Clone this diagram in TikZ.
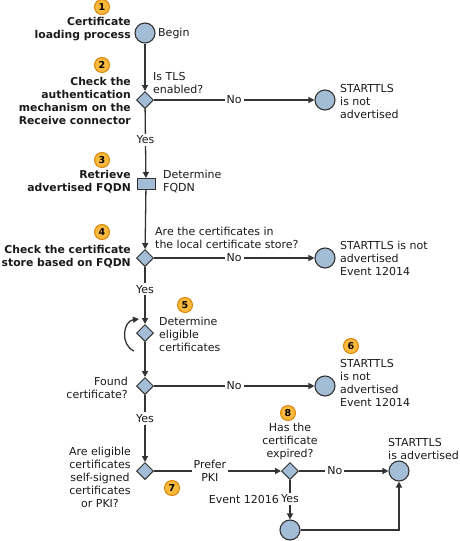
\documentclass[tikz,border=0pt]{standalone}
\usepackage{fontspec}
\setmainfont{DejaVu Sans}
\usetikzlibrary{shapes.geometric,arrows.meta}
\definecolor{nodefill}{HTML}{A3BDD6}
\definecolor{linec}{HTML}{333333}
\definecolor{badgefill}{HTML}{FAB93C}
\definecolor{badgeline}{HTML}{D9870A}
\definecolor{txtc}{HTML}{1A1A1A}
\begin{document}
\begin{tikzpicture}[x=1pt,y=-1pt,
 every node/.style={font=\fontsize{11}{13}\selectfont, text=txtc},
 endc/.style={circle, draw=linec, line width=1.1pt, fill=nodefill, minimum size=20pt, inner sep=0pt},
 dec/.style={diamond, draw=linec, line width=1pt, fill=nodefill, minimum width=17pt, minimum height=17pt, inner sep=0pt},
 procbox/.style={rectangle, draw=linec, line width=1pt, fill=nodefill, minimum width=18pt, minimum height=11pt, inner sep=0pt},
 flow/.style={draw=linec, line width=1.3pt, -{Triangle[length=6pt,width=6pt]}},
 lbl/.style={fill=white, inner sep=2pt, align=center},
 txt/.style={inner sep=0pt, align=left},
 head/.style={inner sep=0pt, align=right, font=\fontsize{10.8}{13}\selectfont\bfseries},
 badge/.style={circle, draw=badgeline, line width=1pt, fill=badgefill, minimum size=15pt, inner sep=0pt, text=black, font=\fontsize{9.5}{10}\selectfont\bfseries},
]
\useasboundingbox (0,0) rectangle (459,541);

% main nodes
\node[endc] (begin) at (145,33) {};
\node[dec] (d1) at (145,100) {};
\node[endc] (end1) at (325,100) {};
\node[procbox] (fqdn) at (146,184) {};
\node[dec] (d2) at (145,258) {};
\node[endc] (end2) at (325,258) {};
\node[dec] (d3) at (145,333) {};
\node[dec] (d4) at (145,386) {};
\node[endc] (end3) at (325,386) {};
\node[dec] (d5) at (145,471) {};
\node[dec] (d6) at (290,471) {};
\node[endc] (end4) at (399,471) {};
\node[endc] (c5) at (290,530) {};

% badges
\node[badge] (b1) at (102,7) {1};
\node[badge] (b2) at (102,65) {2};
\node[badge] (b3) at (102,160) {3};
\node[badge] (b4) at (102,232) {4};
\node[badge] (b5) at (185,305) {5};
\node[badge] (b6) at (351,346) {6};
\node[badge] (b7) at (172,488) {7};
\node[badge] (b8) at (288,413) {8};

% headings
\node[head, anchor=east] (h1) at (131,29.5) {Certificate\\loading process};
\node[head, anchor=east] (h2) at (131,100.5) {Check the\\authentication\\mechanism on the\\Receive connector};
\node[head, anchor=east] (h3) at (131,181.5) {Retrieve\\advertised FQDN};
\node[head, anchor=east] (h4) at (131,256.5) {Check the certificate\\store based on FQDN};

% texts
\node[txt, anchor=west] (t0) at (158,33) {Begin};
\node[txt, anchor=west] (t1) at (153,83) {Is TLS\\enabled?};
\node[txt, anchor=west] (t2) at (340,101) {STARTTLS\\is not\\advertised};
\node[txt, anchor=west] (t3) at (163,181.5) {Determine\\FQDN};
\node[txt, anchor=west] (t4) at (155,238) {Are the certificates in\\the local certificate store?};
\node[txt, anchor=west] (t5) at (340,258) {STARTTLS is not\\advertised\\Event 12014};
\node[txt, anchor=west] (t6) at (159,334.5) {Determine\\eligible\\certificates};
\node[txt, anchor=east, align=right] (t7) at (128,387.5) {Found\\certificate?};
\node[txt, anchor=west] (t8) at (340,382.5) {STARTTLS\\is not\\advertised\\Event 12014};
\node[txt, align=center] (t9) at (100,477) {Are eligible\\certificates\\self-signed\\certificates\\or PKI?};
\node[txt, align=center] (t10) at (290,441) {Has the\\certificate\\expired?};
\node[txt, anchor=west] (t11) at (388,448.5) {STARTTLS\\is advertised};
\node[txt, anchor=east] (t12) at (279,499) {Event 12016};

% connectors
\draw[flow] (begin) -- (d1);
\draw[flow] (d1) -- node[lbl]{No} (end1);
\draw[flow] (d1) -- node[lbl, pos=0.45]{Yes} (fqdn);
\draw[flow] (fqdn) -- (d2);
\draw[flow] (d2) -- node[lbl]{No} (end2);
\draw[flow] (d2) -- node[lbl, pos=0.39]{Yes} (d3);
\draw[flow] (d3) -- (d4);
\draw[flow] ([shift={(-11,18)}]d3.center) .. controls ([shift={(-25,12)}]d3.center) and ([shift={(-22,-12)}]d3.center) .. ([shift={(-6,-14)}]d3.center);
\draw[flow] (d4) -- node[lbl]{No} (end3);
\draw[flow] (d4) -- node[lbl, pos=0.35]{Yes} (d5);
\draw[flow] (d5) -- node[lbl, pos=0.44]{Prefer\\PKI} (d6);
\draw[flow] (d6) -- node[lbl, pos=0.4]{No} (end4);
\draw[flow] (d6) -- node[lbl, pos=0.48]{Yes} (c5);
\draw[flow] (c5) -| (end4);
\end{tikzpicture}
\end{document}
